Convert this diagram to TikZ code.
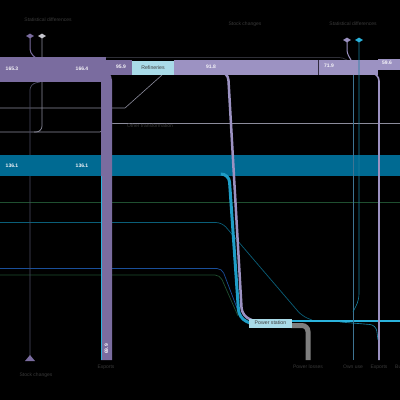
\documentclass[tikz,border=0pt]{standalone}
\usepackage{fontspec}
\setmainfont{Liberation Sans}
\usetikzlibrary{shapes.geometric}
\definecolor{pA}{HTML}{7A6C9F}
\definecolor{pB}{HTML}{9C92C2}
\definecolor{tealband}{HTML}{006A92}
\definecolor{cyanC}{HTML}{2BB3DC}
\definecolor{refbox}{HTML}{A9DBE8}
\definecolor{lblgrey}{HTML}{3A3A3A}
\definecolor{lineg}{HTML}{8C8C9C}
\definecolor{darkg}{HTML}{2E2E36}
\definecolor{greenl}{HTML}{1F4F30}
\definecolor{tealline}{HTML}{0A5E78}
\definecolor{bluel}{HTML}{1A4F9A}
\definecolor{slate}{HTML}{4A4A62}
\definecolor{lossg}{HTML}{7E7E7E}
\tikzset{
  val/.style={text=white!92!pB, font=\fontsize{5}{6}\selectfont\bfseries, inner sep=0pt},
  captxt/.style={text=lblgrey, font=\fontsize{5}{6}\selectfont, inner sep=0pt},
  procbox/.style={fill=refbox, text=black!75, font=\fontsize{5.2}{6}\selectfont, inner sep=0pt, minimum height=14pt},
  dia/.style={diamond, fill=#1, inner sep=0pt, minimum width=8pt, minimum height=5pt, aspect=1.6}
}
\begin{document}
\begin{tikzpicture}[x=1pt,y=-1pt]
\fill[black] (0,0) rectangle (400,400);
\useasboundingbox (0,0) rectangle (400,400);
\clip (0,0) rectangle (400,400);

% thin horizontal lines
\draw[greenl, line width=0.7pt] (0,202) -- (400,202);
\draw[lineg, line width=0.6pt] (113,123) -- (400,123);
\draw[lineg, line width=0.6pt] (0,132) -- (100,132) -- (113,123);
\draw[lineg, line width=0.6pt] (0,108) -- (125,108) -- (162,75);
\draw[darkg, line width=0.8pt, rounded corners=4pt] (106,57.5) -- (343,57.5) -- (350,62);
\draw[tealline, line width=0.7pt, rounded corners=6pt] (0,222.5) -- (222,222.5) -- (302,316) -- (312,320);
\draw[bluel, line width=0.7pt, rounded corners=5pt] (0,268.5) -- (222,268.5) -- (240,316);
\draw[greenl, line width=0.7pt, rounded corners=5pt] (0,275) -- (220,275) -- (238,316);

% left verticals
\coordinate (sd1) at (30,36);
\coordinate (sd2) at (42,36);
\draw[slate, line width=0.7pt, rounded corners=6pt] (40,82) -- (30,84) -- (30,357);
\draw[lineg, line width=0.7pt, rounded corners=6pt] (sd2) -- (42,132) -- (34,132);
\draw[pA, line width=1pt, rounded corners=4pt] (sd1) -- (30,53) -- (36,58);

% big teal band
\fill[tealband] (0,155) rectangle (400,176);

% purple bands
\fill[pA] (0,57) rectangle (106,82);
\draw[pA, line width=11pt, rounded corners=7pt] (95,74) -- (106.5,74) -- (106.5,360);
\fill[pA] (106,60) rectangle (132,75);
\fill[pB] (174,60) rectangle (378,75);
\fill[pB] (378,59) rectangle (400,70);
\draw[cyanC, line width=0.8pt] (101,176) -- (101,360);
\draw[black!60!pA, line width=0.3pt] (318,60) -- (318,75);

% strands into power station
\draw[cyanC!70!tealband, line width=3pt, rounded corners=8pt] (222,174) -- (229,174) -- (239,318) -- (252,324);
\draw[pB, line width=2.5pt, rounded corners=8pt] (212,72) -- (228,72) -- (242,316) -- (252,320);

% power station out
\draw[cyanC, line width=2.5pt] (291,321) -- (400,321);
\draw[lossg, line width=5pt, rounded corners=6pt] (291,325.5) -- (308,325.5) -- (308,360);

% right verticals
\draw[slate!60!cyanC, line width=1pt] (353,75) -- (353,360);
\coordinate (sd3) at (347,40);
\coordinate (sd4) at (359,40);
\draw[tealline!60!cyanC, line width=0.6pt, rounded corners=6pt] (sd4) -- (359,300) -- (353,312);
\draw[pB, line width=1pt, rounded corners=3pt] (sd3) -- (347,53) -- (351,60);
\draw[pB, line width=1.6pt, rounded corners=8pt] (366,73) -- (379,73) -- (379,360);
\draw[tealline!50!cyanC, line width=0.6pt, rounded corners=6pt] (340,322) -- (376,325) -- (378,340);

% nodes
\node[procbox, minimum width=42pt] (ref) at (153,67.5) {Refineries};
\node[procbox, minimum width=43pt, minimum height=9pt] (ps) at (270.5,323) {Power station};

\node[dia=pA] at (sd1) {};
\node[dia=lineg!50!white] at (sd2) {};
\node[dia=pB] at (sd3) {};
\node[dia=cyanC] at (sd4) {};
\fill[pA] (25,361) -- (30,355) -- (35,361) -- cycle;

% values
\node[val] (v1) at (12,69) {165.3};
\node[val] (v2) at (82,69) {166.4};
\node[val] (v3) at (121,67) {95.9};
\node[val] (v4) at (211,67) {91.8};
\node[val] (v5) at (329,66) {71.9};
\node[val] (v6) at (387,63) {59.6};
\node[val] (v7) at (12,166) {136.1};
\node[val] (v8) at (82,166) {136.1};
\node[val, rotate=90] (v9) at (106.5,349) {69.9};

% captions
\node[captxt] (c1) at (48,20) {Statistical differences};
\node[captxt] (c2) at (245,24) {Stock changes};
\node[captxt] (c3) at (353,24) {Statistical differences};
\node[captxt] (c4) at (36,375) {Stock changes};
\node[captxt] (c5) at (106,367) {Exports};
\node[captxt] (c6) at (308,367) {Power losses};
\node[captxt] (c7) at (353,367) {Own use};
\node[captxt] (c8) at (379,367) {Exports};
\node[captxt, anchor=west] (c9) at (395,367) {Bunkers};
\node[captxt] (c10) at (150,126) {Other transformation};
\end{tikzpicture}
\end{document}
